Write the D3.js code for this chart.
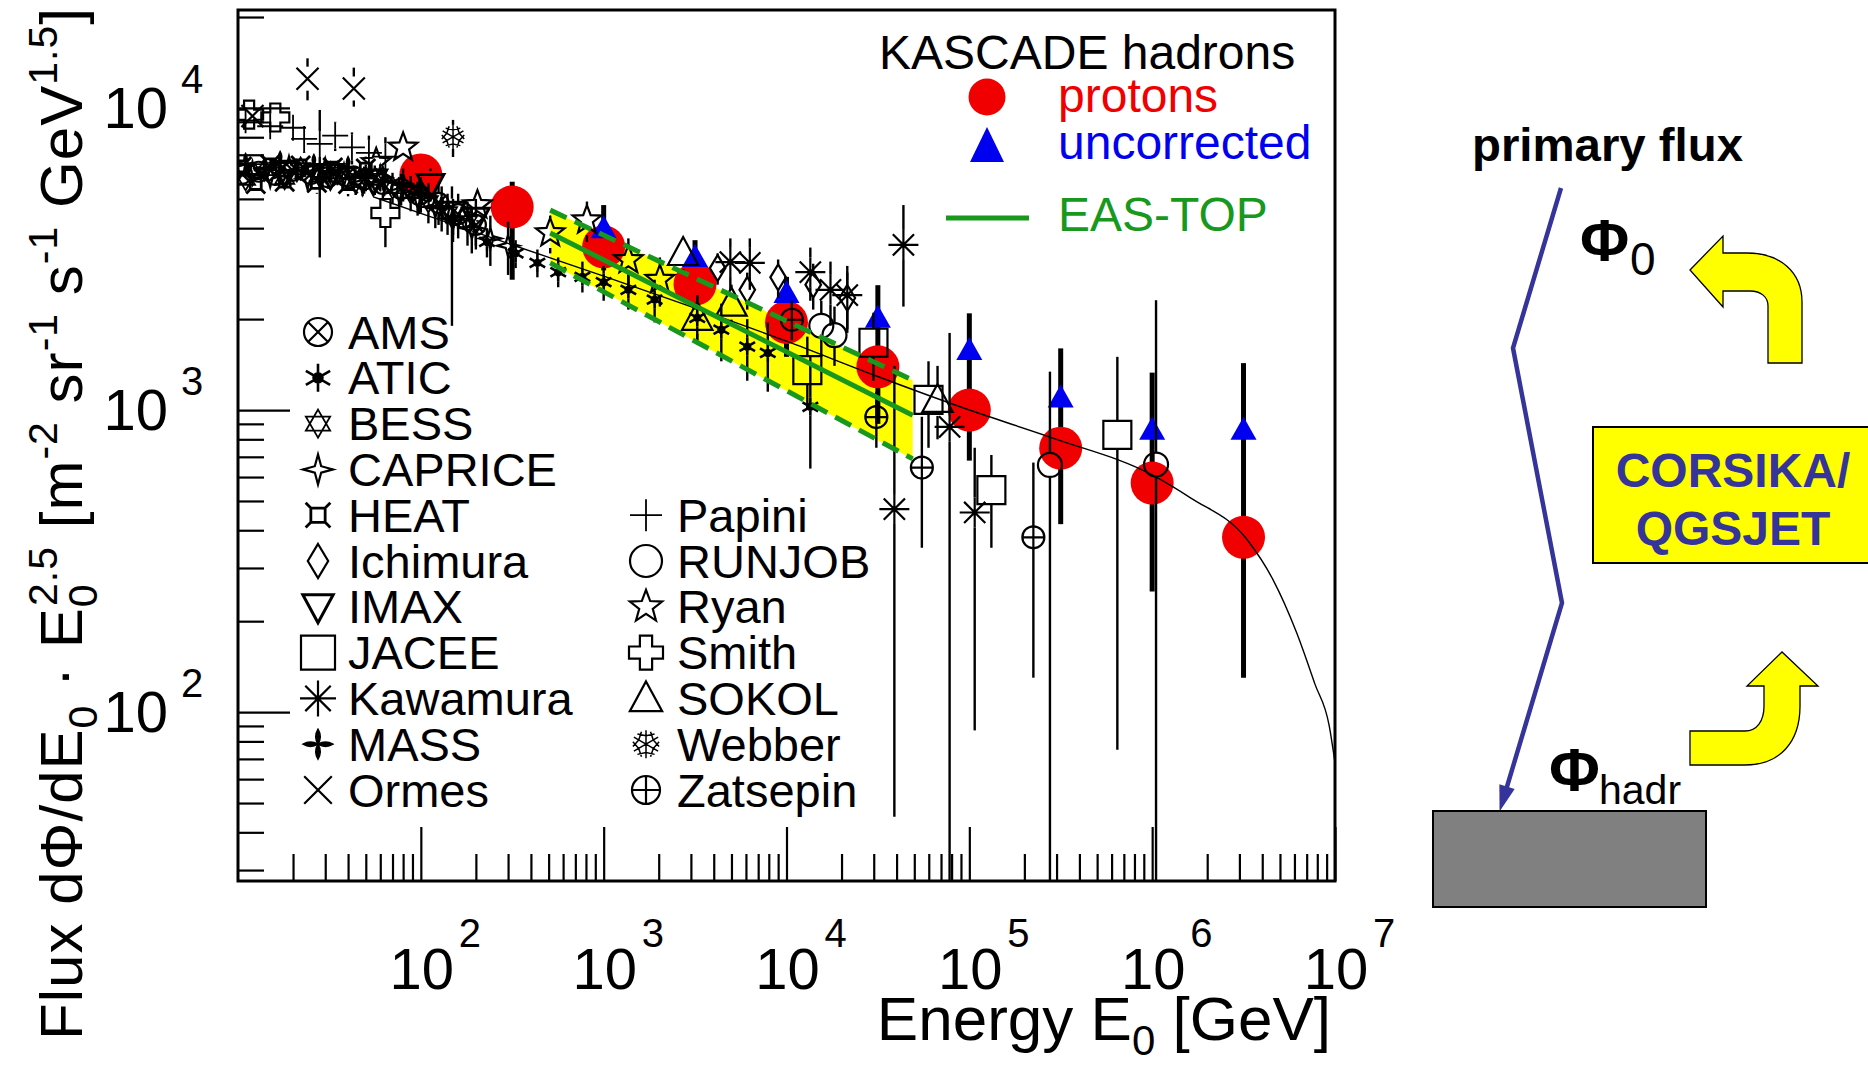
<!DOCTYPE html>
<html>
<head>
<meta charset="utf-8">
<script src="https://cdn.jsdelivr.net/npm/d3@7"></script>
<style>
  html, body { margin: 0; padding: 0; background: #fff; }
  svg { display: block; }
  text { font-family: "Liberation Sans", Arial, Helvetica, sans-serif; }
</style>
</head>
<body>
<svg id="fig" width="1868" height="1065"></svg>
<script>
// ---------------------------------------------------------------------------
// Data: energies in GeV, flux values in m^-2 sr^-1 s^-1 GeV^1.5
// ---------------------------------------------------------------------------

// KASCADE hadron-derived proton flux
const kascadeEnergy = [100, 316, 1000, 3160, 10000, 31600, 100000, 316000, 1000000, 3160000];
const protonFlux    = [6000, 4700, 3470, 2610, 1950, 1390, 1000, 748, 573, 379];
const protonLow     = [5300, 2700, 2900, 2150, 1500, 900, 680, 419, 251, 130];
const protonHigh    = [6500, 5700, 4000, 3210, 2440, 2020, 1580, 1100, 860, 860];

// KASCADE uncorrected values
const uncorrEnergy = [1000, 3160, 10000, 31600, 100000, 316000, 1000000, 3160000];
const uncorrFlux   = [4000, 3210, 2440, 2020, 1580, 1100, 860, 860];
const uncorrHigh   = [4770, 3650, 2760, 2590, 2090, 1600, 1330, 1430];

// EAS-TOP proton spectrum with its uncertainty band
const easTopEnergy = [510, 49000];
const easTopFlux   = [3855, 961];
const easTopLow    = [3070, 689];
const easTopHigh   = [4590, 1256];

// Model spectrum (thin line)
const modelEnergy = [55, 100, 300, 1000, 3000, 10000, 30000, 100000, 300000, 1000000,
                     1620000, 3310000, 4570000, 6170000, 7760000, 9300000, 10000000];
const modelFlux   = [5080, 4480, 3560, 2775, 2200, 1690, 1306, 1000, 800, 610,
                     512, 372, 275, 183, 124, 90, 68];

// Direct measurements: [energy, flux, lower bound, upper bound]
const AMS = [[10.5,6050,5600,6500],[13,6150,5700,6600],[16,6000,5550,6450],[20,6200,5700,6700],
             [25,6050,5550,6550],[31,5900,5400,6400],[39,5950,5400,6500],[49,5800,5200,6400],
             [62,5600,5000,6200],[78,5400,4750,6050],[98,5150,4450,5850],[125,4850,4100,5600],
             [160,4450,3700,5200],[200,4100,3400,4800]];
const ATIC = [[150,4300,3800,4800],[230,3600,3200,4000],[330,3300,2950,3650],[434,3070,2750,3400],
              [564,2860,2550,3200],[765,2760,2450,3100],[1000,2650,2300,3000],[1365,2500,2150,2850],
              [1900,2320,1950,2700],[3250,2020,1650,2400],[4400,1845,1450,2250],[6100,1620,1250,2000],
              [7900,1545,1150,1950],[13500,1025,640,1500]];
const BESS = [[11,5800,5400,6200],[14,6250,5800,6700],[18,5850,5400,6300],[22,6300,5800,6800],
              [28,5950,5450,6450],[35,6100,5550,6650],[44,5700,5150,6250],[56,5800,5150,6450],
              [70,5450,4800,6100],[88,5250,4550,5950],[110,4900,4150,5650],[140,4500,3800,5200],[180,4200,3500,4900]];
const CAPRICE = [[12,6100,5700,6500],[15,5950,5550,6350],[19,6350,5900,6800],[24,5850,5400,6300],
                 [30,6250,5750,6750],[38,6000,5500,6500],[48,5650,5100,6200],[60,5900,5300,6500],
                 [76,5300,4700,5900],[96,5050,4400,5700],[120,4700,4000,5400],[150,4300,3600,5000],
                 [190,4000,3300,4700],[240,3700,3000,4400],[300,3500,2800,4200]];
const HEAT = [[10.5,6400,6000,6800],[12.5,5600,5200,6000],[15,6500,6100,6900],[18,5700,5300,6100],
              [22,6450,6000,6900],[27,5650,5200,6100],[33,6350,5850,6850],[40,5600,5100,6100],[50,6300,5700,6900]];
const Ichimura = [[4200,2950,2600,3300],[6100,2500,2150,2850],[9000,2750,2350,3150],
                  [14000,2600,2150,3050],[21500,2350,1850,2850]];
const IMAX = [[18,6150,5700,6600],[32,6000,5500,6500],[55,5750,5200,6300],[113,5560,4900,6300],
              [148,4500,1900,5500],[200,4300,3500,5000]];
const JACEE = [[13000,1355,1000,1750],[29900,1670,1250,2100],[59800,1080,750,1450],
               [132000,543,350,710],[645000,827,75,1500]];
const Kawamura = [[4930,3090,2500,3700],[6300,3070,2500,3700],[13500,2860,2300,3450],[17400,2500,1900,3100],
                  [21500,2400,1800,3000],[43600,3520,2200,4770],[38900,470,45,1400],
                  [78000,880,20,1800],[107000,458,87,750]];
const MASS = [[11,6500,6100,6900],[14,6300,5900,6700],[17,6600,6150,7050],[21,6200,5750,6650],
              [26,6450,5950,6950],[32,6100,5600,6600],[40,6350,5800,6900],[50,5900,5300,6500],
              [63,5700,5100,6300],[80,5600,4900,6300],[100,5200,4500,5900],[130,4700,3900,5500]];
const Ormes = [[12,9400,8600,10200],[24,12500,10600,14600],[43,11600,10100,13600]];
const Papini = [[11,9100,8300,9900],[15,8700,7900,9500],[20,8600,7800,9400],[23,7900,7100,8700],
                [28,7600,3200,9850],[34,8100,7200,9000],[42,7400,6500,8300],[52,7100,6100,8100],[64,6900,5800,8000]];
const RUNJOB = [[15500,1900,1500,2300],[18300,1770,1400,2200],[276000,658,10,1340],[1050000,660,10,2310]];
const Ryan = [[57,6580,6100,7100],[80,7400,6800,8000],[204,4770,4200,5350],[510,3855,3300,4400],
              [810,4250,3600,4900],[1365,3140,2600,3700],[2030,2700,2200,3200]];
const Smith = [[11.5,9500,8800,10200],[16,9300,8600,10000],[64,4490,3460,4970]];
const SOKOL = [[2720,3310,2900,3700],[3250,2020,1700,2400],[5000,2250,1900,2600],[67000,1080,800,1400]];
const Webber = [[150,8020,6880,9130]];
const Zatsepin = [[10700,1990,1700,2300],[31000,948,750,1150],[55000,645,350,950],[224000,379,130,670]];

// Axis tick labels
const xTickExponents = [2, 3, 4, 5, 6, 7];
const yTickExponents = [2, 3, 4];

// Legend entries
const legendLeft  = ['AMS','ATIC','BESS','CAPRICE','HEAT','Ichimura','IMAX','JACEE','Kawamura','MASS','Ormes'];
const legendRight = ['Papini','RUNJOB','Ryan','Smith','SOKOL','Webber','Zatsepin'];

// ---------------------------------------------------------------------------
// Styling of each experiment's marker
// ---------------------------------------------------------------------------
const experiments = {
  AMS:      {data: AMS,      sym: 'otimes',   s: 10, ls: 14},
  ATIC:     {data: ATIC,     sym: 'ast6',     s: 9,  ls: 14},
  BESS:     {data: BESS,     sym: 'hexagram', s: 11, ls: 14},
  CAPRICE:  {data: CAPRICE,  sym: 'star4',    s: 11, ls: 15},
  HEAT:     {data: HEAT,     sym: 'heat',     s: 10, ls: 13},
  Ichimura: {data: Ichimura, sym: 'diamond',  s: 13, ls: 17},
  IMAX:     {data: IMAX,     sym: 'tridown',  s: 14, ls: 16},
  JACEE:    {data: JACEE,    sym: 'square',   s: 14, ls: 17},
  Kawamura: {data: Kawamura, sym: 'ast8',     s: 15, ls: 18},
  MASS:     {data: MASS,     sym: 'mass',     s: 11, ls: 15},
  Ormes:    {data: Ormes,    sym: 'x',        s: 12, ls: 15},
  Papini:   {data: Papini,   sym: 'plus',     s: 13, ls: 16},
  RUNJOB:   {data: RUNJOB,   sym: 'circle',   s: 12, ls: 16},
  Ryan:     {data: Ryan,     sym: 'star5',    s: 15, ls: 17},
  Smith:    {data: Smith,    sym: 'grcross',  s: 14, ls: 17},
  SOKOL:    {data: SOKOL,    sym: 'triup',    s: 16, ls: 17},
  Webber:   {data: Webber,   sym: 'snow',     s: 12, ls: 14},
  Zatsepin: {data: Zatsepin, sym: 'oplus',    s: 11, ls: 14}
};

// ---------------------------------------------------------------------------
// Geometry and scales
// ---------------------------------------------------------------------------
const svg = d3.select('#fig');
const plot = {left: 238, right: 1335, top: 10, bottom: 881};
const x = d3.scaleLog().domain([10, 1e7]).range([plot.left, plot.right]);
const y = d3.scaleLog().domain([27.6, 21100]).range([plot.bottom, plot.top]);

const RED = '#f00000', BLUE = '#0000f0', GREEN = '#18981c', YELLOW = '#ffff00';

svg.append('rect').attr('width', 1868).attr('height', 1065).attr('fill', '#fff');
svg.append('defs').append('clipPath').attr('id', 'plotClip')
  .append('rect').attr('x', plot.left).attr('y', plot.top)
  .attr('width', plot.right - plot.left).attr('height', plot.bottom - plot.top);

// ---------------------------------------------------------------------------
// Marker shapes
// ---------------------------------------------------------------------------
function poly(pts) {
  return 'M' + pts.map(p => p[0].toFixed(2) + ',' + p[1].toFixed(2)).join('L') + 'Z';
}
function circ(r) {
  return `M${-r},0a${r},${r} 0 1,0 ${2 * r},0a${r},${r} 0 1,0 ${-2 * r},0`;
}
function spoke(a, r) {
  const c = Math.cos(a) * r, s = Math.sin(a) * r;
  return `M${(-c).toFixed(2)},${(-s).toFixed(2)}L${c.toFixed(2)},${s.toFixed(2)}`;
}
function starPts(n, ro, ri, rot) {
  const pts = [];
  for (let i = 0; i < 2 * n; i++) {
    const a = rot + i * Math.PI / n, r = i % 2 ? ri : ro;
    pts.push([Math.cos(a) * r, Math.sin(a) * r]);
  }
  return pts;
}
function markerShape(sym, s) {
  const up = -Math.PI / 2;
  switch (sym) {
    case 'otimes': { const a = s * 0.7; return {d: circ(s) + `M${-a},${-a}L${a},${a}M${-a},${a}L${a},${-a}`, fill: 'none'}; }
    case 'oplus':  return {d: circ(s) + `M${-s},0H${s}M0,${-s}V${s}`, fill: 'none'};
    case 'circle': return {d: circ(s), fill: 'none'};
    case 'ast6':   return {d: spoke(Math.PI / 2, s) + spoke(Math.PI / 6, s) + spoke(5 * Math.PI / 6, s) + circ(s * 0.32), fill: '#000', sw: 2.6};
    case 'ast8':   return {d: spoke(0, s) + spoke(Math.PI / 4, s) + spoke(Math.PI / 2, s) + spoke(3 * Math.PI / 4, s), fill: 'none'};
    case 'x':      return {d: spoke(Math.PI / 4, s * 1.3) + spoke(3 * Math.PI / 4, s * 1.3), fill: 'none'};
    case 'plus':   return {d: `M${-s},0H${s}M0,${-s}V${s}`, fill: 'none', sw: 1.8};
    case 'square': return {d: `M${-s},${-s}H${s}V${s}H${-s}Z`, fill: 'none'};
    case 'diamond':return {d: poly([[0, -s], [0.6 * s, 0], [0, s], [-0.6 * s, 0]]), fill: 'none'};
    case 'triup':  return {d: poly([[0, -s], [s * 0.95, s * 0.75], [-s * 0.95, s * 0.75]]), fill: 'none'};
    case 'tridown':return {d: poly([[0, s], [s * 0.95, -s * 0.75], [-s * 0.95, -s * 0.75]]), fill: 'none', sw: 3};
    case 'hexagram': {
      const t1 = [0, 1, 2].map(i => [Math.cos(up + i * 2 * Math.PI / 3) * s, Math.sin(up + i * 2 * Math.PI / 3) * s]);
      const t2 = [0, 1, 2].map(i => [Math.cos(-up + i * 2 * Math.PI / 3) * s, Math.sin(-up + i * 2 * Math.PI / 3) * s]);
      return {d: poly(t1) + poly(t2), fill: 'none', sw: 1.8};
    }
    case 'star5':  return {d: poly(starPts(5, s, s * 0.42, up)), fill: 'none'};
    case 'star4':  return {d: poly(starPts(4, s, s * 0.3, up)), fill: 'none'};
    case 'grcross': {
      const w = s * 0.36;
      return {d: poly([[-w, -s], [w, -s], [w, -w], [s, -w], [s, w], [w, w], [w, s], [-w, s], [-w, w], [-s, w], [-s, -w], [-w, -w]]), fill: 'none'};
    }
    case 'heat': {
      const a = s * 0.55, b = s * 0.95;
      let d = `M${-a},${-a}H${a}V${a}H${-a}Z`;
      [[1, 1], [1, -1], [-1, 1], [-1, -1]].forEach(([i, j]) => { d += `M${i * a},${j * a}L${i * b},${j * b}`; });
      return {d, fill: 'none', sw: 2.8};
    }
    case 'snow': {
      let d = '';
      for (let k = 0; k < 6; k++) {
        const a = up + k * Math.PI / 3;
        d += `M0,0L${Math.cos(a) * s},${Math.sin(a) * s}`;
        const bx = Math.cos(a) * s * 0.6, by = Math.sin(a) * s * 0.6;
        [-0.7, 0.7].forEach(o => { d += `M${bx},${by}L${Math.cos(a + o) * s * 0.95},${Math.sin(a + o) * s * 0.95}`; });
      }
      return {d, fill: 'none', sw: 1.5};
    }
    case 'mass': {
      let d = '';
      for (let k = 0; k < 4; k++) {
        const a = k * Math.PI / 2, c = Math.cos(a), sn = Math.sin(a);
        const tip = [c * s, sn * s], l = [c * s * 0.5 - sn * s * 0.3, sn * s * 0.5 + c * s * 0.3],
              r = [c * s * 0.5 + sn * s * 0.3, sn * s * 0.5 - c * s * 0.3];
        d += `M0,0Q${l[0]},${l[1]} ${tip[0]},${tip[1]}Q${r[0]},${r[1]} 0,0Z`;
      }
      return {d, fill: '#000', sw: 1.5};
    }
  }
}
function drawMarker(g, sym, s, cx, cy) {
  const m = markerShape(sym, s);
  g.append('path').attr('d', m.d).attr('transform', `translate(${cx},${cy})`)
    .attr('fill', m.fill).attr('stroke', '#000').attr('stroke-width', m.sw || 2.2)
    .attr('stroke-linejoin', 'miter');
}

// ---------------------------------------------------------------------------
// Plot contents
// ---------------------------------------------------------------------------
const gp = svg.append('g').attr('clip-path', 'url(#plotClip)');

// EAS-TOP uncertainty band
const easRows = easTopEnergy.map((e, i) => ({e, f: easTopFlux[i], lo: easTopLow[i], hi: easTopHigh[i]}));
gp.append('path').datum(easRows)
  .attr('d', d3.area().x(d => x(d.e)).y0(d => y(d.lo)).y1(d => y(d.hi)))
  .attr('fill', YELLOW);

// KASCADE error bars
const kasRows = kascadeEnergy.map((e, i) => ({e, f: protonFlux[i], lo: protonLow[i], hi: protonHigh[i]}));
const uncRows = uncorrEnergy.map((e, i) => ({e, f: uncorrFlux[i], hi: uncorrHigh[i]}));
gp.selectAll('.kerr').data(kasRows).join('line')
  .attr('x1', d => x(d.e)).attr('x2', d => x(d.e)).attr('y1', d => y(d.lo)).attr('y2', d => y(d.hi))
  .attr('stroke', '#000').attr('stroke-width', 5);
gp.selectAll('.uerr').data(uncRows).join('line')
  .attr('x1', d => x(d.e)).attr('x2', d => x(d.e)).attr('y1', d => y(d.f)).attr('y2', d => y(d.hi))
  .attr('stroke', '#000').attr('stroke-width', 5);

// KASCADE markers
gp.selectAll('.prot').data(kasRows).join('circle')
  .attr('cx', d => x(d.e)).attr('cy', d => y(d.f)).attr('r', 21.5).attr('fill', RED);
gp.selectAll('.unc').data(uncRows).join('path')
  .attr('d', d => { const cx = x(d.e), cy = y(d.f); return `M${cx},${cy - 13}L${cx + 13},${cy + 10}L${cx - 13},${cy + 10}Z`; })
  .attr('fill', BLUE);

// Direct measurements
Object.keys(experiments).forEach(name => {
  const ex = experiments[name];
  const g = gp.append('g');
  ex.data.forEach(([e, f, lo, hi]) => {
    const cx = x(e), cy = y(f), gap = ex.s;
    if (y(hi) < cy - gap) g.append('line').attr('x1', cx).attr('x2', cx).attr('y1', y(hi)).attr('y2', cy - gap)
      .attr('stroke', '#000').attr('stroke-width', 2.4);
    if (y(lo) > cy + gap) g.append('line').attr('x1', cx).attr('x2', cx).attr('y1', cy + gap).attr('y2', y(lo))
      .attr('stroke', '#000').attr('stroke-width', 2.4);
    drawMarker(g, ex.sym, ex.s, cx, cy);
  });
});

// Model spectrum
gp.append('path').datum(modelEnergy.map((e, i) => [e, modelFlux[i]]))
  .attr('d', d3.line().x(d => x(d[0])).y(d => y(d[1])).curve(d3.curveMonotoneX))
  .attr('fill', 'none').attr('stroke', '#000').attr('stroke-width', 1.4);

// EAS-TOP lines
const lineOf = key => d3.line().x(d => x(d.e)).y(d => y(d[key]));
gp.append('path').datum(easRows).attr('d', lineOf('lo')).attr('stroke', GREEN).attr('stroke-width', 5)
  .attr('stroke-dasharray', '18 9').attr('fill', 'none');
gp.append('path').datum(easRows).attr('d', lineOf('hi')).attr('stroke', GREEN).attr('stroke-width', 5)
  .attr('stroke-dasharray', '18 9').attr('fill', 'none');
gp.append('path').datum(easRows).attr('d', lineOf('f')).attr('stroke', GREEN).attr('stroke-width', 5)
  .attr('fill', 'none');

// ---------------------------------------------------------------------------
// Axes
// ---------------------------------------------------------------------------
function logTicks(lo, hi) {
  const minor = [], major = [];
  for (let p = Math.floor(Math.log10(lo)); p <= Math.ceil(Math.log10(hi)); p++) {
    for (let m = 1; m < 10; m++) {
      const v = m * Math.pow(10, p);
      if (v < lo * 0.999 || v > hi * 1.001) continue;
      (m === 1 ? major : minor).push(v);
    }
  }
  return {minor, major};
}
const yt = logTicks(27.6, 21100), xt = logTicks(10, 1e7);
function styleAxis(g) {
  g.select('.domain').remove();
  g.selectAll('line').attr('stroke', '#000').attr('stroke-width', 2.2);
}
svg.append('g').attr('transform', `translate(${plot.left},0)`)
  .call(d3.axisRight(y).tickValues(yt.minor).tickSize(26).tickFormat('')).call(styleAxis);
svg.append('g').attr('transform', `translate(${plot.left},0)`)
  .call(d3.axisRight(y).tickValues(yt.major).tickSize(52).tickFormat('')).call(styleAxis);
svg.append('g').attr('transform', `translate(0,${plot.bottom})`)
  .call(d3.axisTop(x).tickValues(xt.minor).tickSize(27).tickFormat('')).call(styleAxis);
svg.append('g').attr('transform', `translate(0,${plot.bottom})`)
  .call(d3.axisTop(x).tickValues(xt.major.filter(v => v > 10)).tickSize(54).tickFormat('')).call(styleAxis);

// Frame
svg.append('rect').attr('x', plot.left).attr('y', plot.top)
  .attr('width', plot.right - plot.left).attr('height', plot.bottom - plot.top)
  .attr('fill', 'none').attr('stroke', '#000').attr('stroke-width', 3);

// Tick labels
yTickExponents.forEach(p => {
  const v = Math.pow(10, p);
  svg.append('text').attr('x', 168).attr('y', y(v) + 20).attr('text-anchor', 'end')
    .attr('font-size', 58).text('10');
  svg.append('text').attr('x', 181).attr('y', y(v) - 15).attr('font-size', 40).text(p);
});
xTickExponents.forEach(p => {
  const v = Math.pow(10, p);
  svg.append('text').attr('x', x(v) + 1).attr('y', 989).attr('text-anchor', 'middle')
    .attr('font-size', 58).text('10');
  svg.append('text').attr('x', x(v) + 38).attr('y', 947).attr('font-size', 40).text(p);
});

// Rich text helper: normal / sub / sup / sup stacked over the preceding sub
function richText(t, parts, big, small, subDy, supDy) {
  let shift = 0, prevW = 0;
  parts.forEach(([str, kind]) => {
    const target = kind === 'sub' ? subDy : (kind === 'sup' || kind === 'stack') ? supDy : 0;
    const ts = t.append('tspan').attr('font-size', kind ? small : big).attr('dy', target - shift).text(str);
    if (kind === 'stack') ts.attr('dx', -prevW);
    shift = target;
    prevW = ts.node().getComputedTextLength();
  });
}

// Axis titles
const xTitle = svg.append('text').attr('x', 1331).attr('y', 1040).attr('text-anchor', 'end')
  .style('white-space', 'pre');
richText(xTitle, [['Energy E', ''], ['0', 'sub'], [' [GeV]', '']], 62, 42, 15, -24);

const yTitle = svg.append('text').attr('transform', 'translate(82,1040) rotate(-90)')
  .style('white-space', 'pre');
richText(yTitle, [
  ['Flux d\u03A6/dE', ''], ['0', 'sub'], [' \u00B7 E', ''], ['0', 'sub'], ['2.5', 'stack'],
  [' [m', ''], ['-2', 'sup'], [' sr', ''], ['-1', 'sup'], [' s', ''], ['-1', 'sup'],
  [' GeV', ''], ['1.5', 'sup'], [']', '']
], 60, 41, 15, -25);
yTitle.attr('textLength', 1032).attr('lengthAdjust', 'spacing');

// ---------------------------------------------------------------------------
// Legends
// ---------------------------------------------------------------------------
const leg = svg.append('g');
const rowY = i => 332 + i * 45.8;
legendLeft.forEach((name, i) => {
  const ex = experiments[name];
  drawMarker(leg, ex.sym, ex.ls, 318, rowY(i));
  leg.append('text').attr('x', 348).attr('y', rowY(i) + 16.5).attr('font-size', 47).text(name);
});
legendRight.forEach((name, i) => {
  const ex = experiments[name];
  drawMarker(leg, ex.sym, ex.ls, 646, rowY(i + 4));
  leg.append('text').attr('x', 677).attr('y', rowY(i + 4) + 16.5).attr('font-size', 47).text(name);
});

// KASCADE / EAS-TOP legend
leg.append('text').attr('x', 879).attr('y', 69).attr('font-size', 48).text('KASCADE hadrons');
leg.append('circle').attr('cx', 987).attr('cy', 97).attr('r', 18.5).attr('fill', RED);
leg.append('text').attr('x', 1058).attr('y', 112).attr('font-size', 48).attr('fill', RED).text('protons');
leg.append('path').attr('d', 'M987,127L1004,162L970,162Z').attr('fill', BLUE);
leg.append('text').attr('x', 1058).attr('y', 159).attr('font-size', 48).attr('fill', BLUE).text('uncorrected');
leg.append('line').attr('x1', 946).attr('x2', 1029).attr('y1', 218).attr('y2', 218)
  .attr('stroke', GREEN).attr('stroke-width', 5);
leg.append('text').attr('x', 1058).attr('y', 231).attr('font-size', 48).attr('fill', GREEN).text('EAS-TOP');

// ---------------------------------------------------------------------------
// Side sketch: air shower and the unfolding loop
// ---------------------------------------------------------------------------
const side = svg.append('g');
const NAVY = '#34349a';
side.append('text').attr('x', 1472).attr('y', 161).attr('font-size', 46).attr('font-weight', 'bold')
  .attr('textLength', 271).attr('lengthAdjust', 'spacingAndGlyphs').text('primary flux');

const track = [[1561, 188], [1513, 348], [1562, 603], [1503, 800]];
side.append('path').attr('d', d3.line()(track)).attr('fill', 'none').attr('stroke', NAVY)
  .attr('stroke-width', 4.5).attr('stroke-linejoin', 'miter');
{
  const [p, q] = [track[2], track[3]];
  const dx = q[0] - p[0], dy = q[1] - p[1], L = Math.hypot(dx, dy), ux = dx / L, uy = dy / L;
  const tip = [q[0] + ux * 12, q[1] + uy * 12], back = [tip[0] - ux * 26, tip[1] - uy * 26];
  side.append('path').attr('d', poly([tip, [back[0] - uy * 8, back[1] + ux * 8], [back[0] + uy * 8, back[1] - ux * 8]]))
    .attr('fill', NAVY);
}

// detector block
side.append('rect').attr('x', 1433).attr('y', 811).attr('width', 273).attr('height', 96)
  .attr('fill', '#808080').attr('stroke', '#000').attr('stroke-width', 2);

// simulation box
side.append('rect').attr('x', 1593).attr('y', 427).attr('width', 300).attr('height', 136)
  .attr('fill', YELLOW).attr('stroke', '#000').attr('stroke-width', 2);
side.append('text').attr('x', 1733).attr('y', 487).attr('text-anchor', 'middle').attr('font-size', 48)
  .attr('font-weight', 'bold').attr('fill', NAVY).text('CORSIKA/');
side.append('text').attr('x', 1733).attr('y', 545).attr('text-anchor', 'middle').attr('font-size', 48)
  .attr('font-weight', 'bold').attr('fill', NAVY).text('QGSJET');

// curved arrows
side.append('path')
  .attr('d', 'M1690,270L1723,236L1723,253L1747,253C1780,253 1802,272 1802,302L1802,363L1768,363L1768,306C1768,297 1761,291 1750,291L1723,291L1723,307Z')
  .attr('fill', YELLOW).attr('stroke', '#000').attr('stroke-width', 1.3);
side.append('path')
  .attr('d', 'M1690,731L1745,731C1757,731 1764,721 1764,706L1764,686L1747,686L1782,652L1818,686L1800,686L1800,706C1800,742 1780,765 1745,765L1690,765Z')
  .attr('fill', YELLOW).attr('stroke', '#000').attr('stroke-width', 1.3);

// flux symbols
side.append('text').attr('x', 1580).attr('y', 261).attr('font-family', '"Liberation Serif", "Times New Roman", serif')
  .attr('font-size', 60).attr('font-weight', 'bold').text('\u03A6');
side.append('text').attr('x', 1630).attr('y', 275).attr('font-size', 46).text('0');
side.append('text').attr('x', 1549).attr('y', 791).attr('font-family', '"Liberation Serif", "Times New Roman", serif')
  .attr('font-size', 62).attr('font-weight', 'bold').text('\u03A6');
side.append('text').attr('x', 1599).attr('y', 804).attr('font-size', 41).text('hadr');
</script>
</body>
</html>
